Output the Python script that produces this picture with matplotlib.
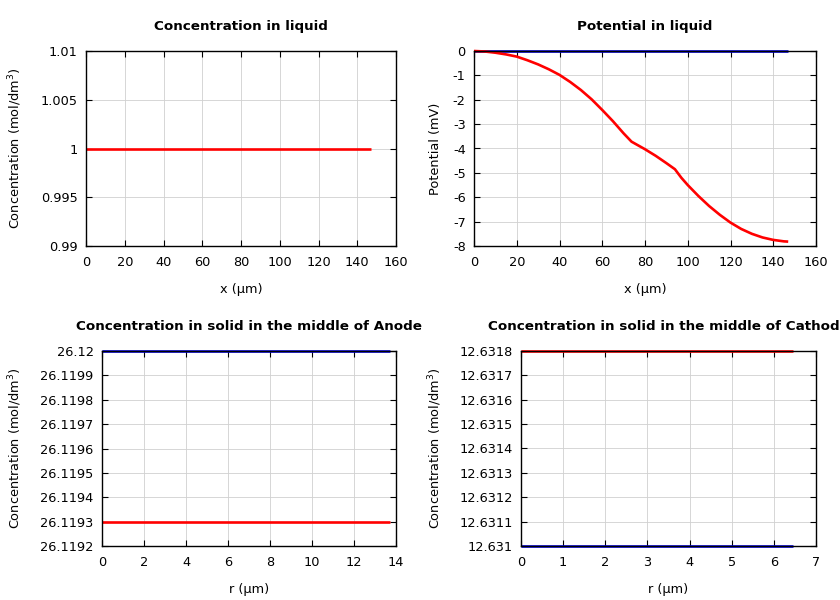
import matplotlib
matplotlib.use("Agg")
import matplotlib.pyplot as plt
from matplotlib.ticker import FuncFormatter

# liquid concentration (flat)
x_liq = [0, 147]
c_liq = [1.0, 1.0]

# potential in liquid, mV
x_pot = [0, 5, 10, 15, 20, 25, 30, 35, 40, 45, 50, 55, 60, 65, 70, 73.7,
         80, 85, 90, 94, 97, 100, 105, 110, 115, 120, 125, 130, 135, 140, 145, 147]
phi_red = [0, -0.02, -0.07, -0.14, -0.23, -0.38, -0.55, -0.75, -0.98, -1.27,
           -1.6, -1.98, -2.42, -2.88, -3.38, -3.72, -4.03, -4.3, -4.6, -4.85,
           -5.2, -5.5, -5.95, -6.36, -6.72, -7.04, -7.3, -7.5, -7.65, -7.75,
           -7.81, -7.82]
phi_blue = [0] * len(x_pot)

# solid concentration in the middle of anode / cathode
r_an = [0, 13.7]
c_an_blue = [26.12, 26.12]
c_an_red = [26.1193, 26.1193]
r_ca = [0, 6.45]
c_ca_red = [12.6318, 12.6318]
c_ca_blue = [12.631, 12.631]

RED = "#ff0000"
BLUE = "#0000dd"
W, H = 840, 600
YLAB = "Concentration (mol/dm$^3$)"


def g_fmt(v, pos):
    s = "%.6g" % v
    return "0" if s == "-0" else s


def make_ax(fig, px, title, xlabel, ylabel, xlim, xticks, ylim, yticks, labx):
    l, t, r, b = px
    ax = fig.add_axes([l / W, 1 - b / H, (r - l) / W, (b - t) / H])
    ax.set_xlim(*xlim)
    ax.set_ylim(*ylim)
    ax.set_xticks(xticks)
    ax.set_yticks(yticks)
    ax.xaxis.set_major_formatter(FuncFormatter(g_fmt))
    ax.yaxis.set_major_formatter(FuncFormatter(g_fmt))
    ax.tick_params(direction="in", top=True, right=True, length=4, width=0.8,
                   labelsize=9.3, color="black")
    ax.tick_params(axis="x", pad=7)
    ax.tick_params(axis="y", pad=6)
    ax.grid(True, color="#d0d0d0", lw=0.6)
    ax.set_axisbelow(True)
    for s in ax.spines.values():
        s.set_linewidth(1.0)
        s.set_zorder(5)
    ax.set_title(title, fontsize=9.7, fontweight="bold", pad=15)
    ax.set_xlabel(xlabel, fontsize=9.3)
    ax.xaxis.set_label_coords(0.5, -0.19)
    ax.set_ylabel(ylabel, fontsize=9.3)
    ax.yaxis.set_label_coords(labx, 0.5)
    return ax


def line(ax, xs, ys, c):
    ax.plot(xs, ys, color=c, lw=1.9, solid_capstyle="butt", clip_on=False, zorder=3)


fig = plt.figure(figsize=(8.4, 6.0), dpi=100)

ax1 = make_ax(fig, (86, 51, 396, 246), "Concentration in liquid", "x (µm)", YLAB,
              (0, 160), range(0, 161, 20), (0.99, 1.01),
              [0.99, 0.995, 1.0, 1.005, 1.01], -0.2)
line(ax1, x_liq, c_liq, RED)

ax2 = make_ax(fig, (474, 51, 816, 246), "Potential in liquid", "x (µm)", "Potential (mV)",
              (0, 160), range(0, 161, 20), (-8, 0), range(-8, 1), -0.094)
line(ax2, x_pot, phi_blue, BLUE)
line(ax2, x_pot, phi_red, RED)

ax3 = make_ax(fig, (102, 351, 396, 546), "Concentration in solid in the middle of Anode",
              "r (µm)", YLAB, (0, 14), range(0, 15, 2), (26.1192, 26.12),
              [26.1192 + i * 0.0001 for i in range(9)], -0.265)
line(ax3, r_an, c_an_blue, BLUE)
line(ax3, r_an, c_an_red, RED)

ax4 = make_ax(fig, (521, 351, 816, 546), "Concentration in solid in the middle of Cathode",
              "r (µm)", YLAB, (0, 7), range(0, 8), (12.631, 12.6318),
              [12.631 + i * 0.0001 for i in range(9)], -0.26)
line(ax4, r_ca, c_ca_red, RED)
line(ax4, r_ca, c_ca_blue, BLUE)

fig.savefig("out.png", dpi=100)
